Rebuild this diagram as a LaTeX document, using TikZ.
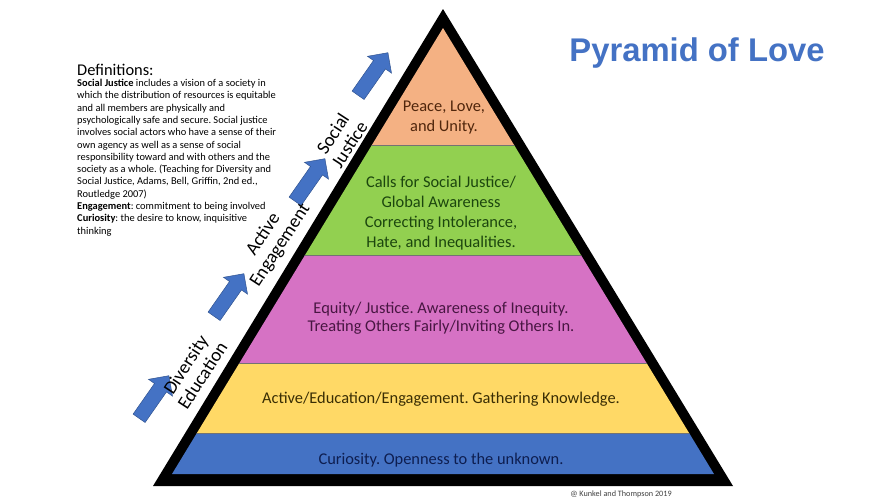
\documentclass[tikz,border=0pt]{standalone}
\usepackage{fontspec}
\setmainfont{Carlito}
\newfontfamily\titlefont{Liberation Sans}
\frenchspacing
\definecolor{loveBlue}{RGB}{68, 114, 196}
\definecolor{arrowEdge}{RGB}{47, 82, 143}
\definecolor{bandPeach}{RGB}{244, 177, 131}
\definecolor{bandGreen}{RGB}{146, 208, 80}
\definecolor{bandPink}{RGB}{214, 114, 196}
\definecolor{bandYellow}{RGB}{255, 217, 102}
\definecolor{bandBlue}{RGB}{68, 114, 196}
\definecolor{inkPeach}{RGB}{80, 38, 12}
\definecolor{inkGreen}{RGB}{28, 70, 14}
\definecolor{inkPink}{RGB}{72, 22, 66}
\definecolor{inkYellow}{RGB}{58, 46, 4}
\definecolor{inkBlue}{RGB}{14, 30, 80}
\usetikzlibrary{positioning}

\begin{document}
\begin{tikzpicture}[x=0.03cm, y=-0.03cm,
    bandtext/.style={align=center, inner sep=0pt, font=\fontsize{14}{17}\selectfont},
    sidelabel/.style={align=center, inner sep=0pt, rotate=57, font=\fontsize{16}{17}\selectfont},
    blockarrow/.style={fill=loveBlue, draw=arrowEdge, line width=0.4pt, line join=miter},
    bandline/.style={draw=black!55, line width=0.7pt}]
    % Page
    \fill[white] (0,0) rectangle (887,499);
    \useasboundingbox (0,0) rectangle (887,499);

    % Title
    \node[text=loveBlue, inner sep=0pt, font=\titlefont\bfseries\fontsize{28}{32}\selectfont] (title) at (697,53) {Pyramid of Love};

    % Definitions
    \node[anchor=west, inner sep=0pt, font=\fontsize{14}{16}\selectfont] (defhead) at (77,70) {Definitions:};
    \node[anchor=north west, align=left, inner sep=0pt, font=\fontsize{8.9}{10.5}\selectfont] (defbody) at (77,79) {%
        \textbf{Social Justice} includes a vision of a society in\\
        which the distribution of resources is equitable\\
        and all members are physically and\\
        psychologically safe and secure. Social justice\\
        involves social actors who have a sense of their\\
        own agency as well as a sense of social\\
        responsibility toward and with others and the\\
        society as a whole. (Teaching for Diversity and\\
        Social Justice, Adams, Bell, Griffin, 2nd ed.,\\
        Routledge 2007)\\
        \textbf{Engagement}: commitment to being involved\\
        \textbf{Curiosity}: the desire to know, inquisitive\\
        thinking};

    % Pyramid frame
    \fill[black] (443,9) -- (153,486) -- (733,486) -- cycle;

    % Bands
    \begin{scope}
        \clip (443,28) -- (172,474) -- (714,474) -- cycle;
        \fill[bandPeach]  (100,0)   rectangle (800,145);
        \fill[bandGreen]  (100,145) rectangle (800,255);
        \fill[bandPink]   (100,255) rectangle (800,363);
        \fill[bandYellow] (100,363) rectangle (800,433);
        \fill[bandBlue]   (100,433) rectangle (800,480);
        \foreach \y in {145, 255, 363, 433} {
            \draw[bandline] (100,\y) -- (800,\y);
        }
    \end{scope}

    % Band texts
    \node[bandtext, text=inkPeach] (peace) at (444,118) {Peace, Love,\\and Unity.};
    \node[bandtext, text=inkGreen] (calls) at (441,213) {Calls for Social Justice/\\Global Awareness\\Correcting Intolerance,\\Hate, and Inequalities.};
    \node[bandtext, text=inkPink, font=\fontsize{14}{15}\selectfont] (equity) at (441,318) {Equity/ Justice. Awareness of Inequity.\\Treating Others Fairly/Inviting Others In.};
    \node[bandtext, text=inkYellow] (active) at (441,399) {Active/Education/Engagement. Gathering Knowledge.};
    \node[bandtext, text=inkBlue] (curiosity) at (441,460) {Curiosity. Openness to the unknown.};

    % Arrows up the left side
    \foreach \x/\y in {154/397, 229/295, 310/180, 373/74} {
        \begin{scope}[shift={(\x,\y)}, x=1cm, y=1cm, rotate=55]
            \draw[blockarrow] (-0.78,-0.22) -- (0.34,-0.22) -- (0.34,-0.44) -- (0.78,0)
                -- (0.34,0.44) -- (0.34,0.22) -- (-0.78,0.22) -- cycle;
        \end{scope}
    }

    % Side labels
    \node[sidelabel] (lblDiv) at (194,370) {Diversity\\Education};
    \node[sidelabel] (lblAct) at (272,240) {Active\\Engagement};
    \node[sidelabel] (lblSoc) at (341,139) {Social\\Justice};

    % Credit
    \node[inner sep=0pt, text=black!75, font=\fontsize{7}{8}\selectfont] (credit) at (621,494) {@ Kunkel and Thompson 2019};
\end{tikzpicture}
\end{document}
